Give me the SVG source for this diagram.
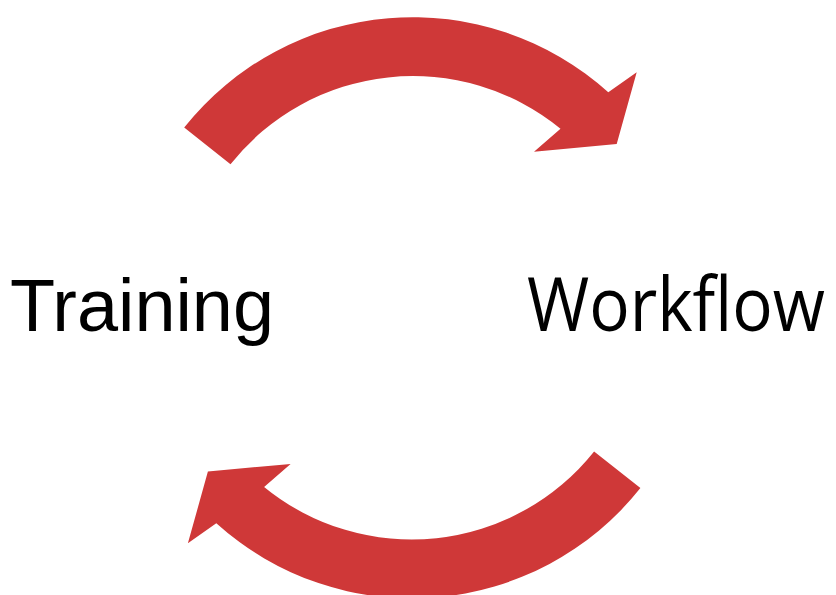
<svg xmlns="http://www.w3.org/2000/svg" width="836" height="595" viewBox="0 0 836 595">
<style>
.arrow{fill:#cf3838;stroke:none}
.label{font-family:"Liberation Sans",Arial,sans-serif;font-size:75px;fill:#000}
.label2{font-family:"Open Sans","Liberation Sans",sans-serif;font-size:75px;fill:#000}
</style>
<defs>
<path id="cyc" d="M 184.2,127.5 A 292 292 0 0 1 608.3,92.3 L 636.7,72.3 L 616.7,144 L 534,151.7 L 560.5,128.7 A 233 233 0 0 0 230.5,164.2 Z"/>
</defs>
<rect width="836" height="595" fill="#fff"/>
<g id="connectors">
<use href="#cyc" class="arrow"/>
<use href="#cyc" class="arrow" transform="rotate(180 412.3 307.8)"/>
</g>
<g id="training">
<text class="label" x="10" y="331" textLength="264" lengthAdjust="spacingAndGlyphs">Training</text>
</g>
<g id="workflow">
<text class="label2" x="527" y="331" textLength="298" lengthAdjust="spacingAndGlyphs">Workflow</text>
</g>
</svg>
